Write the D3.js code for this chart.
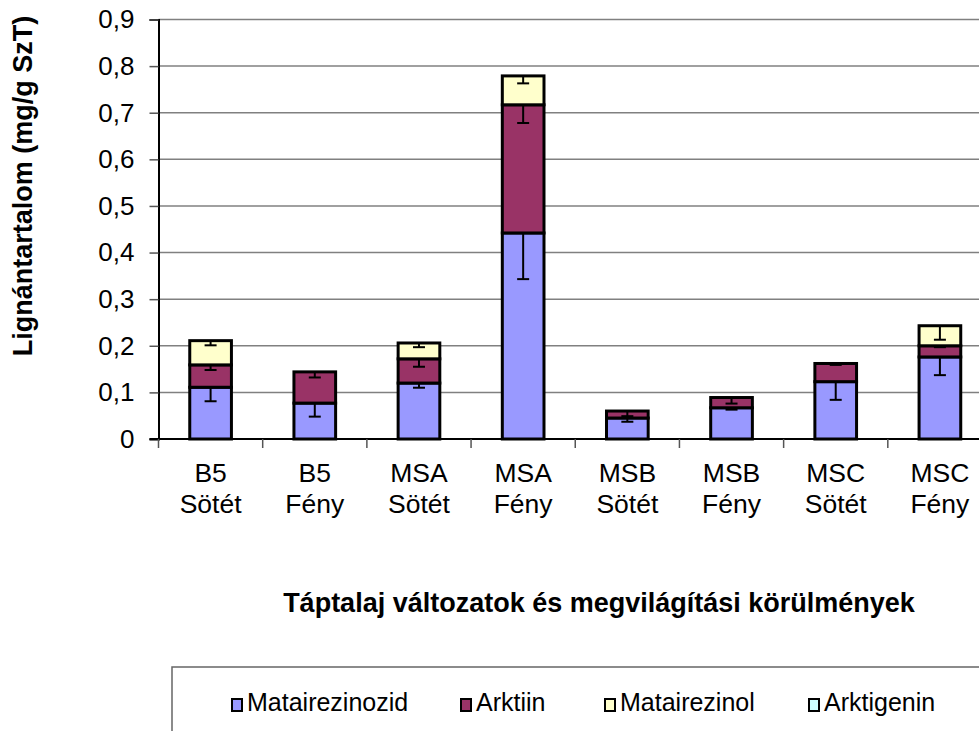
<!DOCTYPE html>
<html>
<head>
<meta charset="utf-8">
<script src="https://cdn.jsdelivr.net/npm/d3@7"></script>
<style>
  body { margin: 0; background: #fff; }
  text { font-family: "Liberation Sans", Arial, sans-serif; }
</style>
</head>
<body>
<svg id="chart" width="979" height="731"></svg>
<script>
// categories (two-line labels)
let categories = ["B5 Sötét", "B5 Fény", "MSA Sötét", "MSA Fény", "MSB Sötét", "MSB Fény", "MSC Sötét", "MSC Fény"];
let seriesNames = ["Matairezinozid", "Arktiin", "Matairezinol", "Arktigenin"];

// series values (mg/g SzT)
let matairezinozid = [0.111, 0.077, 0.120, 0.442, 0.045, 0.067, 0.123, 0.176];
let arktiin        = [0.048, 0.067, 0.052, 0.275, 0.015, 0.022, 0.039, 0.024];
let matairezinol   = [0.052, 0.000, 0.034, 0.062, 0.000, 0.000, 0.000, 0.043];
let arktigenin     = [0, 0, 0, 0, 0, 0, 0, 0];

// error bar sizes (drawn downward from top of each segment)
let errMatairezinozid = [0.030, 0.029, 0.010, 0.099, 0.008, 0.004, 0.039, 0.039];
let errArktiin        = [0.011, 0.012, 0.017, 0.039, 0.011, 0.013, 0.003, 0.003];
let errMatairezinol   = [0.010, 0, 0.009, 0.016, 0, 0, 0, 0.030];
let errArktigenin     = [0, 0, 0, 0, 0, 0, 0, 0];

let yTicks = [0, 0.1, 0.2, 0.3, 0.4, 0.5, 0.6, 0.7, 0.8, 0.9];
let colors = ["#9999ff", "#993366", "#ffffcc", "#ccffff"];

let values = [matairezinozid, arktiin, matairezinol, arktigenin];
let errors = [errMatairezinozid, errArktiin, errMatairezinol, errArktigenin];

let svg = d3.select("#chart");

let plotLeft = 158.5, plotRight = 992, plotTop = 19.5, plotBottom = 439;

let x = d3.scaleBand()
    .domain(categories)
    .range([plotLeft, plotRight])
    .paddingInner(0.6)
    .paddingOuter(0.3);

let xb = d3.scaleBand().domain(categories).range([plotLeft, plotRight]);

let y = d3.scaleLinear()
    .domain([0, 0.9])
    .range([plotBottom, plotTop]);

// gridlines
svg.append("g")
    .selectAll("line")
    .data(yTicks.slice(1))
    .join("line")
    .attr("x1", plotLeft)
    .attr("x2", plotRight)
    .attr("y1", d => y(d))
    .attr("y2", d => y(d))
    .attr("stroke", "#808080")
    .attr("stroke-width", 1.5);

// stacked data
let table = categories.map((c, i) => {
    let row = { cat: c };
    seriesNames.forEach((s, k) => row[s] = values[k][i]);
    return row;
});
let stacked = d3.stack().keys(seriesNames)(table);

stacked.forEach((layer, k) => {
    svg.append("g")
        .selectAll("rect")
        .data(layer.filter(d => d[1] - d[0] > 0))
        .join("rect")
        .attr("x", d => x(d.data.cat))
        .attr("width", x.bandwidth())
        .attr("y", d => y(d[1]))
        .attr("height", d => y(d[0]) - y(d[1]))
        .attr("fill", colors[k])
        .attr("stroke", "#000")
        .attr("stroke-width", 3);
});

// error bars
stacked.forEach((layer, k) => {
    let g = svg.append("g");
    layer.forEach((d, i) => {
        let e = errors[k][i];
        if (e <= 0 || d[1] - d[0] <= 0) return;
        let cx = x(d.data.cat) + x.bandwidth() / 2;
        g.append("line")
            .attr("x1", cx).attr("x2", cx)
            .attr("y1", y(d[1])).attr("y2", y(d[1] - e))
            .attr("stroke", "#000").attr("stroke-width", 2);
        g.append("line")
            .attr("x1", cx - 6).attr("x2", cx + 6)
            .attr("y1", y(d[1] - e)).attr("y2", y(d[1] - e))
            .attr("stroke", "#000").attr("stroke-width", 2);
    });
});

// y axis
let yAxis = svg.append("g")
    .attr("transform", `translate(${plotLeft},0)`)
    .call(d3.axisLeft(y).tickValues(yTicks).tickSize(9).tickPadding(15)
        .tickFormat(d => d === 0 ? "0" : d3.format(".1f")(d).replace(".", ",")));
yAxis.select(".domain").attr("stroke", "#000").attr("stroke-width", 2);
yAxis.selectAll(".tick line").attr("stroke", "#555").attr("stroke-width", 1.5);
yAxis.selectAll(".tick text")
    .attr("font-size", 26)
    .attr("fill", "#000")
    .style("font-family", "Liberation Sans, Arial, sans-serif");

// x axis line + category ticks
svg.append("line")
    .attr("x1", plotLeft - 9).attr("x2", plotRight)
    .attr("y1", plotBottom).attr("y2", plotBottom)
    .attr("stroke", "#000").attr("stroke-width", 2);
svg.append("g")
    .selectAll("line")
    .data(categories)
    .join("line")
    .attr("x1", d => xb(d))
    .attr("x2", d => xb(d))
    .attr("y1", plotBottom)
    .attr("y2", plotBottom + 9)
    .attr("stroke", "#555")
    .attr("stroke-width", 1.5);

// category labels
let catLabels = svg.append("g")
    .selectAll("text")
    .data(categories)
    .join("text")
    .attr("text-anchor", "middle")
    .attr("font-size", 26.5)
    .attr("fill", "#000");
catLabels.each(function (d) {
    let parts = d.split(" ");
    let cx = xb(d) + xb.bandwidth() / 2;
    d3.select(this).append("tspan").attr("x", cx).attr("y", 482).text(parts[0]);
    d3.select(this).append("tspan").attr("x", cx).attr("y", 513).text(parts[1]);
});

// axis titles
svg.append("text")
    .attr("x", 599)
    .attr("y", 612)
    .attr("text-anchor", "middle")
    .attr("font-size", 27)
    .attr("font-weight", "bold")
    .text("Táptalaj változatok és megvilágítási körülmények");

svg.append("text")
    .attr("transform", "translate(32,186) rotate(-90)")
    .attr("text-anchor", "middle")
    .attr("font-size", 27)
    .attr("font-weight", "bold")
    .text("Lignántartalom (mg/g SzT)");

// legend
svg.append("rect")
    .attr("x", 172).attr("y", 667)
    .attr("width", 900).attr("height", 100)
    .attr("fill", "none")
    .attr("stroke", "#666")
    .attr("stroke-width", 1.5);

let legendX = [232, 461, 605, 809];
let legend = svg.append("g")
    .selectAll("g")
    .data(seriesNames)
    .join("g")
    .attr("transform", (d, i) => `translate(${legendX[i]},0)`);
legend.append("rect")
    .attr("x", 0).attr("y", 699)
    .attr("width", 10).attr("height", 12)
    .attr("fill", (d, i) => colors[i])
    .attr("stroke", "#000")
    .attr("stroke-width", 2);
legend.append("text")
    .attr("x", 15).attr("y", 711)
    .attr("font-size", 25)
    .text(d => d);
</script>
</body>
</html>
